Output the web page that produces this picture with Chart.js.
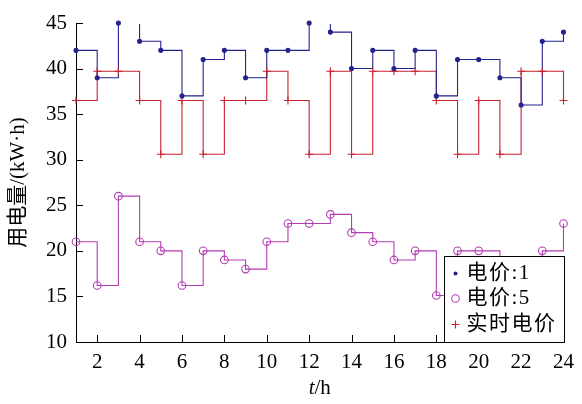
<!DOCTYPE html>
<html>
<head>
<meta charset="utf-8">
<script src="https://cdn.jsdelivr.net/npm/chart.js@4.4.1/dist/chart.umd.min.js"></script>
<style>
  html, body { margin: 0; padding: 0; background: #fff; }
  #wrap { width: 582px; height: 404px; }
</style>
</head>
<body>
<div id="wrap"><canvas id="chart" width="582" height="404"></canvas></div>
<script>
"use strict";

// datos
var hours     = [1,2,3,4,5,6,7,8,9,10,11,12,13,14,15,16,17,18,19,20,21,22,23,24];
var price1    = [42,39,45,43,42,37,41,42,39,42,42,45,44,40,42,40,42,37,41,41,39,36,43,44];
var price5    = [21,16.2,26,21,20,16.2,20,19,18,21,23,23,24,22,21,19,20,15.1,20,20,17,18,20,23];
var realtime  = [36.5,39.7,39.7,36.5,30.6,36.5,30.6,36.5,36.5,39.7,36.5,30.6,39.7,30.6,39.7,39.7,39.7,36.5,30.6,36.5,30.6,39.7,39.7,36.5];
var xTicks    = [2,4,6,8,10,12,14,16,18,20,22,24];
var yTicks    = [10,15,20,25,30,35,40,45];
var names     = ['电价:1', '电价:5', '实时电价'];

var COL_BLUE = '#23238c';
var COL_MAG  = '#b23cb2';
var COL_RED  = '#c8202e';
var SERIF = "'Liberation Serif', 'Noto Sans CJK SC'";

function pts(vals) {
  return hours.map(function (h, i) { return { x: h, y: vals[i] }; });
}

// capa de línea escalonada (recortada arriba) + capa de marcadores (sin recorte)
function lineLayer(vals, color) {
  return {
    data: pts(vals), stepped: 'before', borderColor: color, borderWidth: 1.1,
    pointRadius: 0, fill: false, clip: { left: 8, right: 8, top: -1, bottom: 8 }
  };
}
function markLayer(vals, color, style, r, fillCol) {
  return {
    data: pts(vals), showLine: false, pointStyle: style, pointRadius: r,
    pointBorderColor: color, pointBackgroundColor: fillCol, pointBorderWidth: 1.1,
    clip: false
  };
}

function drawMarker(ctx, kind, x, y) {
  ctx.save();
  ctx.lineWidth = 1.1;
  if (kind === 0) {
    ctx.fillStyle = COL_BLUE;
    ctx.beginPath(); ctx.arc(x, y, 2, 0, Math.PI * 2); ctx.fill();
  } else if (kind === 1) {
    ctx.strokeStyle = COL_MAG;
    ctx.beginPath(); ctx.arc(x, y, 3.8, 0, Math.PI * 2); ctx.stroke();
  } else {
    ctx.strokeStyle = COL_RED;
    ctx.beginPath();
    ctx.moveTo(x - 4, y); ctx.lineTo(x + 4, y);
    ctx.moveTo(x, y - 4); ctx.lineTo(x, y + 4);
    ctx.stroke();
  }
  ctx.restore();
}

var extras = {
  id: 'extras',
  afterDatasetsDraw: function (chart) {
    var ctx = chart.ctx, a = chart.chartArea;
    var xs = chart.scales.x, ys = chart.scales.y;
    ctx.save();
    ctx.strokeStyle = '#000';
    ctx.lineWidth = 1;
    ctx.beginPath();
    xTicks.forEach(function (v) {
      var px = Math.round(xs.getPixelForValue(v)) + 0.5;
      ctx.moveTo(px, a.bottom); ctx.lineTo(px, a.bottom - 7);
    });
    yTicks.forEach(function (v) {
      var py = Math.round(ys.getPixelForValue(v)) + 0.5;
      ctx.moveTo(a.left, py); ctx.lineTo(a.left + 7, py);
    });
    ctx.stroke();

    // leyenda
    var bw = 120, bh = 86;
    var bx = Math.round(a.right - bw) + 0.5, by = Math.round(a.bottom - bh) + 0.5;
    ctx.fillStyle = '#fff';
    ctx.fillRect(bx, by, bw, bh);
    ctx.strokeRect(bx, by, bw, bh);
    ctx.fillStyle = '#000';
    ctx.font = "21px " + SERIF;
    ctx.textBaseline = 'middle';
    ctx.textAlign = 'left';
    if ('letterSpacing' in ctx) ctx.letterSpacing = '1.5px';
    var rows = [17, 42, 68];
    names.forEach(function (n, i) {
      drawMarker(ctx, i, bx + 11, by + rows[i]);
      ctx.fillText(n, bx + 22, by + rows[i]);
    });
    if ('letterSpacing' in ctx) ctx.letterSpacing = '0px';

    // título eje x: t/h (t en cursiva)
    var cx = (a.left + a.right) / 2, cy = 388;
    ctx.font = "italic 21px 'Liberation Serif'";
    var wt = ctx.measureText('t').width;
    ctx.font = "21px 'Liberation Serif'";
    var wr = ctx.measureText('/h').width;
    var x0 = cx - (wt + wr) / 2;
    ctx.font = "italic 21px 'Liberation Serif'";
    ctx.fillText('t', x0, cy);
    ctx.font = "21px 'Liberation Serif'";
    ctx.fillText('/h', x0 + wt, cy);
    ctx.restore();
  }
};

new Chart(document.getElementById('chart'), {
  type: 'line',
  data: {
    datasets: [
      markLayer(price1, COL_BLUE, 'circle', 2, COL_BLUE),
      markLayer(price5, COL_MAG, 'circle', 3.8, 'rgba(0,0,0,0)'),
      markLayer(realtime, COL_RED, 'cross', 4, COL_RED),
      lineLayer(price1, COL_BLUE),
      lineLayer(price5, COL_MAG),
      lineLayer(realtime, COL_RED)
    ]
  },
  options: {
    responsive: false,
    animation: false,
    events: [],
    layout: { padding: { top: 23, right: 13, left: 0, bottom: 0 } },
    plugins: { legend: { display: false }, tooltip: { enabled: false } },
    scales: {
      x: {
        type: 'linear', min: 1, max: 24,
        afterBuildTicks: function (s) { s.ticks = xTicks.map(function (v) { return { value: v }; }); },
        afterFit: function (s) { s.height = 62; },
        grid: { display: false, drawTicks: false },
        border: { display: true, color: '#000', width: 1 },
        ticks: { color: '#000', padding: 8, maxRotation: 0, autoSkip: false,
                 font: { family: "'Liberation Serif'", size: 21 } },
        title: { display: false }
      },
      y: {
        type: 'linear', min: 10, max: 45,
        afterBuildTicks: function (s) { s.ticks = yTicks.map(function (v) { return { value: v }; }); },
        afterFit: function (s) { s.width = 76; },
        grid: { display: false, drawTicks: false },
        border: { display: true, color: '#000', width: 1 },
        ticks: { color: '#000', padding: 9, font: { family: "'Liberation Serif'", size: 21 } },
        title: { display: true, text: '用电量/(kW·h)', color: '#000',
                 font: { family: SERIF, size: 21 }, padding: { top: 6, bottom: 0 } }
      }
    }
  },
  plugins: [extras]
});
</script>
</body>
</html>
